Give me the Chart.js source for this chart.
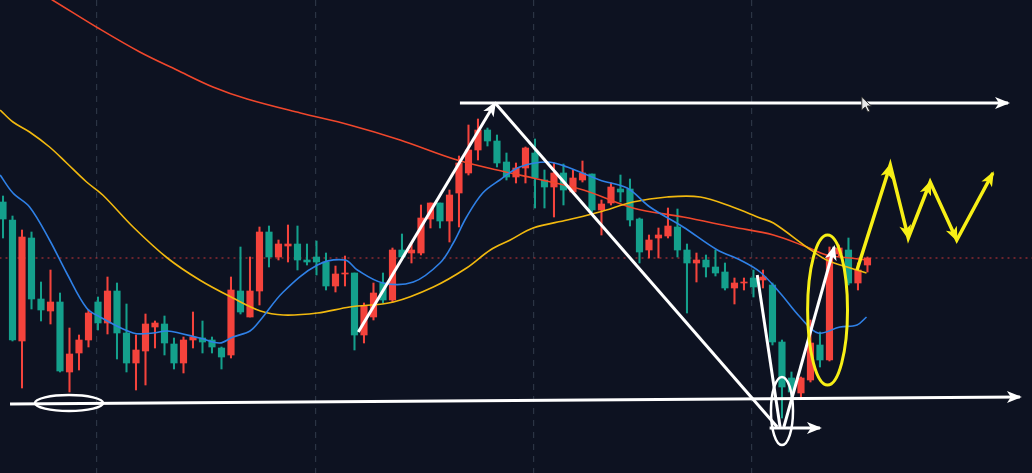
<!DOCTYPE html>
<html>
<head>
<meta charset="utf-8">
<script src="https://cdn.jsdelivr.net/npm/chart.js@4.4.0/dist/chart.umd.min.js"></script>
<style>
  html, body { margin: 0; padding: 0; background: #0d1221; overflow: hidden; }
  #wrap { width: 1032px; height: 473px; }
</style>
</head>
<body>
<div id="wrap"><canvas id="chart"></canvas></div>
<script>
// candles, one per session
const opens  = [298,280,159,262,201,189,198,128,147,160, 198,177,209,167,137,149,173,176,156,137,
                160,162,160,152,145,209,183,209,268,243, 254,256,240,243,238,214,226,227,165,183,
                217,200,250,247,247,281,297,279,307,327, 350,370,359,338,323,332,347,320,313,327,
                308,320,326,290,297,311,311,281,250,262, 264,273,250,237,240,233,228,212,217,222,
                220,215,158,122,107,120,155,140,246,250, 217,235];
const highs  = [304,284,270,268,218,230,207,172,165,190, 203,223,217,196,165,186,179,184,162,163,
                188,179,163,153,223,253,243,273,274,260, 275,274,256,259,247,234,244,227,197,217,
                227,252,266,257,295,297,297,310,344,375, 381,372,365,347,337,353,361,330,337,336,
                330,339,326,300,317,325,321,282,265,272, 292,291,256,247,245,250,237,222,222,230,
                230,217,160,128,123,180,168,253,255,262, 237,243];
const lows   = [262,159,112,191,179,176,128,108,130,153, 170,166,141,128,110,115,152,145,131,127,
                152,147,147,131,142,186,183,195,233,240, 238,230,235,225,210,208,214,150,157,180,
                197,198,240,237,245,272,272,258,273,325, 340,354,333,320,317,317,292,292,283,295,
                307,318,288,265,295,298,274,237,242,242, 262,243,187,218,223,224,210,196,210,203,
                212,155, 82,103,103,118,133,139,244,215, 210,228];
const closes = [281,160,263,201,190,198,129,146,160,187, 177,209,167,137,150,176,177,157,137,160,
                163,158,153,143,210,188,209,268,243,256, 256,240,238,238,214,226,227,165,194,207,
                200,250,243,250,282,297,279,305,337,350, 370,359,337,323,332,352,322,313,327,310,
                322,327,290,296,313,308,280,248,260,265, 274,250,237,240,233,227,212,217,218,213,
                223,158,113,108,122,157,140,245,252,217, 230,242];

// moving averages [session, price]
const maFast = [[-0.3,325],[1.05,307],[2.8,293],[4.9,260],[6.7,227],[8.8,192],[10.2,183],[13.7,167],
  [15.8,167],[17.3,169],[20.7,162],[22.8,157],[24.2,163],[26.0,169],[27.1,180],[29.5,208],[33.1,235],
  [36.0,240],[37.3,230],[40.0,217],[43.2,218],[46.0,237],[47.4,257],[48.8,283],[50.5,307],[52.3,320],
  [54.4,333],[57.3,338],[59.4,333],[62.8,320],[65.7,312],[68.1,293],[71.6,273],[75.2,250],[77.6,240],
  [79.7,228],[81.8,207],[83.9,183],[85.8,167],[88.1,173],[89.9,175],[90.9,183]];
const maMid = [[-0.3,390],[1.05,378],[2.8,368],[4.9,353],[6.7,337],[8.8,318],[10.5,305],[13.7,273],
  [17.3,242],[20.7,220],[24.2,202],[27.1,189],[29.5,185],[33.1,187],[36.5,193],[41.1,198],[45.3,213],
  [48.8,232],[51.3,250],[53.4,260],[55.8,272],[59.4,280],[62.8,288],[66.3,298],[69.9,303],[73.4,303],
  [76.8,293],[79.7,282],[81.1,277],[84.6,253],[86.7,240],[89.2,232],[90.9,227]];
const maSlow = [[3.9,507],[5.2,500],[10.0,472],[14.4,448],[18.3,430],[22.1,413],[25.7,401],[31.3,387],
  [36.5,375],[41.8,360],[47.8,340],[53.4,327],[55.8,322],[61.1,310],[66.3,292],[71.6,283],[76.8,273],
  [81.1,265],[84.6,253],[86.7,245],[89.2,242],[90.9,240]];

const lastPrice = 242;
const gridSessions = [9.9, 32.95, 55.9, 78.8];

// hand-drawn marks [session, price]
const whitePaths = [
  [[0.74,96],[107.05,103]],
  [[48.1,397],[105.8,397]],
  [[37.4,168],[51.8,397]],
  [[51.8,397],[81.5,73]],
  [[79.4,225],[81.8,73]],
  [[82.2,73],[87.5,253]],
  [[80.7,72],[86.0,72]]
];
const whiteArrowed = [0, 1, 2, 5, 6];
const yellowPath = [[89.9,230],[93.4,335],[95.3,262],[97.6,318],[100.4,260],[104.2,327]];
const whiteRings = [{x: 6.95, y: 97, rx: 3.58, ry: 8}, {x: 82.0, y: 89, rx: 1.16, ry: 34}];
const yellowRings = [{x: 86.8, y: 190, rx: 2.1, ry: 75}];
const cursorAt = [90.4, 403];

const UP = '#f4433c', DOWN = '#14a08c', WHITE = '#ffffff', YELLOW = '#f7ef16';
const pt = p => ({x: p[0], y: p[1]});

const datasets = [];
whitePaths.forEach(p => datasets.push({
  type: 'line', data: p.map(pt), borderColor: WHITE, borderWidth: 3,
  pointRadius: 0, tension: 0, order: 0
}));
datasets.push({
  type: 'line', data: yellowPath.map(pt), borderColor: YELLOW, borderWidth: 3.5,
  pointRadius: 0, tension: 0, order: 0, borderJoinStyle: 'miter'
});
[[maFast, '#2f80e6'], [maMid, '#f2b90f'], [maSlow, '#f0472c']].forEach(([d, c]) => datasets.push({
  type: 'line', data: d.map(pt), borderColor: c, borderWidth: 1.6,
  pointRadius: 0, tension: 0.35, order: 1
}));
datasets.push({
  type: 'bar', data: opens.map((o, i) => ({x: i, y: [o, closes[i]]})),
  backgroundColor: opens.map((o, i) => closes[i] >= o ? UP : DOWN),
  barThickness: 6.5, grouped: false, borderWidth: 0, order: 2
});
datasets.push({
  type: 'bar', data: highs.map((h, i) => ({x: i, y: [lows[i], h]})),
  backgroundColor: opens.map((o, i) => closes[i] >= o ? UP : DOWN),
  barThickness: 1.4, grouped: false, borderWidth: 0, order: 3
});
datasets.push({
  type: 'line', data: [{x: -1, y: lastPrice}, {x: 110, y: lastPrice}],
  borderColor: '#c8373a', borderWidth: 1, borderDash: [2, 4],
  pointRadius: 0, order: 4
});

function arrowHead(ctx, x0, y0, x1, y1, color) {
  const a = Math.atan2(y1 - y0, x1 - x0), len = 13, w = 6;
  ctx.beginPath();
  ctx.moveTo(x1 + Math.cos(a) * 2, y1 + Math.sin(a) * 2);
  ctx.lineTo(x1 - Math.cos(a) * len - Math.sin(a) * w, y1 - Math.sin(a) * len + Math.cos(a) * w);
  ctx.lineTo(x1 - Math.cos(a) * len * 0.7, y1 - Math.sin(a) * len * 0.7);
  ctx.lineTo(x1 - Math.cos(a) * len + Math.sin(a) * w, y1 - Math.sin(a) * len - Math.cos(a) * w);
  ctx.closePath();
  ctx.fillStyle = color;
  ctx.fill();
}

const marks = {
  id: 'marks',
  beforeDraw(chart) {
    const ctx = chart.ctx;
    ctx.save();
    ctx.fillStyle = '#0d1221';
    ctx.fillRect(0, 0, chart.width, chart.height);
    ctx.restore();
  },
  afterDatasetsDraw(chart) {
    const {ctx, scales: {x, y}} = chart;
    const px = p => [x.getPixelForValue(p[0]), y.getPixelForValue(p[1])];
    ctx.save();
    [[whiteRings, WHITE, 2.5], [yellowRings, YELLOW, 3]].forEach(([rings, color, lw]) => {
      rings.forEach(r => {
        const cx = x.getPixelForValue(r.x), cy = y.getPixelForValue(r.y);
        ctx.beginPath();
        ctx.ellipse(cx, cy, Math.abs(x.getPixelForValue(r.x + r.rx) - cx),
          Math.abs(y.getPixelForValue(r.y + r.ry) - cy), 0, 0, Math.PI * 2);
        ctx.strokeStyle = color;
        ctx.lineWidth = lw;
        ctx.stroke();
      });
    });
    whiteArrowed.forEach(i => {
      const p = whitePaths[i];
      const [x0, y0] = px(p[p.length - 2]), [x1, y1] = px(p[p.length - 1]);
      arrowHead(ctx, x0, y0, x1, y1, WHITE);
    });
    for (let i = 1; i < yellowPath.length; i++) {
      const [x0, y0] = px(yellowPath[i - 1]), [x1, y1] = px(yellowPath[i]);
      arrowHead(ctx, x0, y0, x1, y1, YELLOW);
    }
    // mouse pointer left on the picture
    const [cx, cy] = px(cursorAt);
    ctx.beginPath();
    ctx.moveTo(cx, cy);
    ctx.lineTo(cx, cy + 13);
    ctx.lineTo(cx + 3.5, cy + 10);
    ctx.lineTo(cx + 6, cy + 15);
    ctx.lineTo(cx + 8, cy + 14);
    ctx.lineTo(cx + 5.5, cy + 9);
    ctx.lineTo(cx + 9.5, cy + 9);
    ctx.closePath();
    ctx.fillStyle = '#e8e8e8';
    ctx.fill();
    ctx.lineWidth = 1;
    ctx.strokeStyle = '#333';
    ctx.stroke();
    ctx.restore();
  }
};

new Chart(document.getElementById('chart'), {
  type: 'bar',
  data: { datasets },
  plugins: [marks],
  options: {
    responsive: true,
    maintainAspectRatio: false,
    animation: false,
    layout: { padding: 0 },
    plugins: { legend: { display: false }, tooltip: { enabled: false } },
    scales: {
      x: {
        type: 'linear', min: -0.316, max: 108.32, offset: false,
        afterBuildTicks: s => { s.ticks = gridSessions.map(v => ({value: v})); },
        ticks: { display: false },
        grid: { color: '#2b3444', lineWidth: 1.2, drawTicks: false, offset: false },
        border: { display: false, dash: [6, 6] }
      },
      y: {
        type: 'linear', min: 27, max: 500, display: false
      }
    }
  }
});
</script>
</body>
</html>
